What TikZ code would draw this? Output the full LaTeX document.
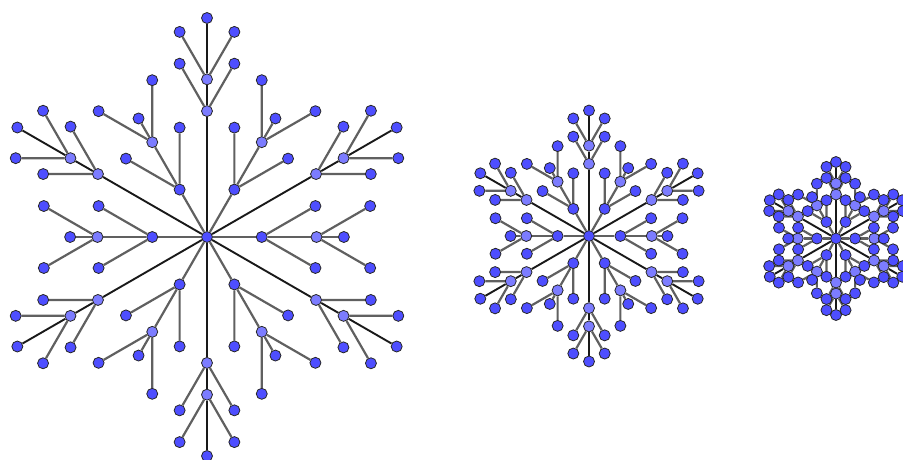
\documentclass[tikz,border=0pt]{standalone}
\usepackage{tikz}
\usetikzlibrary{backgrounds}

\definecolor{flakedark}{RGB}{78,78,255}
\definecolor{flakelight}{RGB}{124,124,255}
\definecolor{twiggray}{RGB}{96,96,96}

\tikzset{
  dot/.style={circle, draw=black!85, line width=0.8pt, inner sep=0pt, minimum size=11pt},
  dk/.style={dot, fill=flakedark},
  lt/.style={dot, fill=flakelight},
  stem/.style={black!90, line width=1.9pt},
  twig/.style={twiggray, line width=2.2pt},
}

% flake: #1 name, #2 x, #3 y, #4 arm length
\newcommand{\drawflake}[4]{%
  \node[dk] (#1c) at (#2,#3) {};
  \foreach \arm in {0,...,5}{%
    \pgfmathsetmacro{\a}{90+60*\arm}%
    \pgfmathsetmacro{\b}{120+60*\arm}%
    % main arm
    \path (#1c.center) ++(\a:{0.575*#4}) node[lt] (#1m\arm-a) {};
    \path (#1c.center) ++(\a:{0.72*#4}) node[lt] (#1m\arm-b) {};
    \path (#1c.center) ++(\a:{#4}) node[dk] (#1m\arm-c) {};
    \foreach \pos in {a,b}{%
      \path (#1m\arm-\pos.center) ++(\a+30:{0.25*#4}) node[dk] (#1m\arm-\pos l) {};
      \path (#1m\arm-\pos.center) ++(\a-30:{0.25*#4}) node[dk] (#1m\arm-\pos r) {};
      \begin{pgfonlayer}{background}
        \draw[twig] (#1m\arm-\pos l) -- (#1m\arm-\pos) -- (#1m\arm-\pos r);
      \end{pgfonlayer}
    }
    % side arm
    \path (#1c.center) ++(\b:{0.25*#4}) node[dk] (#1s\arm-a) {};
    \path (#1c.center) ++(\b:{0.5*#4}) node[lt] (#1s\arm-b) {};
    \path (#1c.center) ++(\b:{0.625*#4}) node[dk] (#1s\arm-c) {};
    \foreach \pos in {a,b}{%
      \path (#1s\arm-\pos.center) ++(\b+30:{0.283*#4}) node[dk] (#1s\arm-\pos l) {};
      \path (#1s\arm-\pos.center) ++(\b-30:{0.283*#4}) node[dk] (#1s\arm-\pos r) {};
      \begin{pgfonlayer}{background}
        \draw[twig] (#1s\arm-\pos l) -- (#1s\arm-\pos) -- (#1s\arm-\pos r);
      \end{pgfonlayer}
    }
    \begin{pgfonlayer}{background}
      \draw[twig] (#1c) -- (#1s\arm-a) -- (#1s\arm-b) -- (#1s\arm-c);
      \draw[stem] (#1c) -- (#1m\arm-a) -- (#1m\arm-b) -- (#1m\arm-c);
    \end{pgfonlayer}
  }%
}

\begin{document}
\begin{tikzpicture}[x=1pt, y=1pt]
  \useasboundingbox (0,0) rectangle (903,-459);

  % big flake
  \drawflake{big}{207}{-237}{219}

  % middle flake
  \drawflake{mid}{589}{-236}{125.5}

  % small flake
  \drawflake{small}{836}{-238.5}{76.5}
\end{tikzpicture}
\end{document}
